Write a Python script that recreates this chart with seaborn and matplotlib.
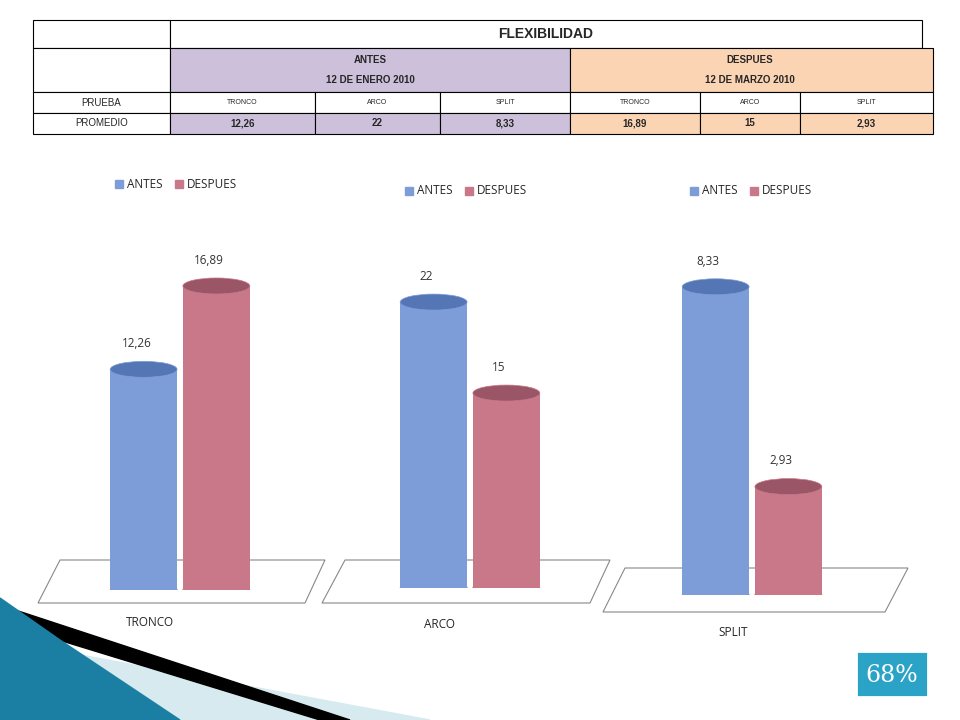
import matplotlib
matplotlib.use("Agg")
import matplotlib.pyplot as plt
import seaborn as sns
import pandas as pd
from matplotlib.patches import Rectangle, Polygon, Ellipse

pruebas = ["TRONCO", "ARCO", "SPLIT"]
antes = [12.26, 22, 8.33]
despues = [16.89, 15, 2.93]
etiquetas_antes = ["12,26", "22", "8,33"]
etiquetas_despues = ["16,89", "15", "2,93"]
series = ["ANTES", "DESPUES"]

azul, rojo = "#7C9DD8", "#C87888"
azul_top, rojo_top = "#5576B4", "#9A5566"

sns.set_style("white")
fig = plt.figure(figsize=(9.6, 7.2), dpi=100)
bg = fig.add_axes([0, 0, 1, 1])
bg.set_xlim(0, 960)
bg.set_ylim(720, 0)
bg.axis("off")

# tabla
def celda(x0, y0, x1, y1, color="white", texto="", size=7, bold=True):
    bg.add_patch(Rectangle((x0, y0), x1 - x0, y1 - y0, facecolor=color, edgecolor="black", lw=0.8))
    if texto:
        bg.text((x0 + x1) / 2, (y0 + y1) / 2, texto, ha="center", va="center", fontsize=size,
                fontweight="bold" if bold else "normal", family="Liberation Sans")

celda(33, 20, 170, 48)
celda(170, 20, 922, 48, texto="FLEXIBILIDAD", size=10)
celda(33, 48, 170, 92)
celda(170, 48, 570, 92, color="#CCC0DA")
celda(570, 48, 933, 92, color="#FBD4B4")
bg.text(370, 60, "ANTES", ha="center", va="center", fontsize=7, fontweight="bold", family="Liberation Sans")
bg.text(370, 80, "12 DE ENERO 2010", ha="center", va="center", fontsize=7, fontweight="bold", family="Liberation Sans")
bg.text(750, 60, "DESPUES", ha="center", va="center", fontsize=7, fontweight="bold", family="Liberation Sans")
bg.text(750, 80, "12 DE MARZO 2010", ha="center", va="center", fontsize=7, fontweight="bold", family="Liberation Sans")
cols = [170, 315, 440, 570, 700, 800, 933]
celda(33, 92, 170, 113, texto="PRUEBA", size=7, bold=False)
celda(33, 113, 170, 134, texto="PROMEDIO", size=7, bold=False)
valores = etiquetas_antes + etiquetas_despues
for i in range(6):
    c = "#CCC0DA" if i < 3 else "#FBD4B4"
    celda(cols[i], 92, cols[i + 1], 113, texto=pruebas[i % 3], size=5, bold=False)
    celda(cols[i], 113, cols[i + 1], 134, color=c, texto=valores[i], size=7)

# decoracion
bg.add_patch(Polygon([(0, 640), (430, 720), (0, 720)], color="#D6EAF0"))
bg.add_patch(Polygon([(0, 605), (350, 720), (320, 720), (0, 622)], color="black"))
bg.add_patch(Polygon([(0, 598), (60, 640), (180, 720), (0, 720)], color="#1B7FA3"))
bg.add_patch(Rectangle((856, 651), 72, 46, facecolor="#2BA3C6", edgecolor="white", lw=2))
bg.text(892, 675, "68%", ha="center", va="center", fontsize=17, color="white", family="DejaVu Serif")

pisos = [[(60, 560), (325, 560), (305, 603), (38, 603)],
         [(345, 560), (610, 560), (590, 603), (322, 603)],
         [(625, 568), (908, 568), (885, 612), (603, 612)]]
nombres = [(150, 622), (440, 624), (733, 632)]
leyendas = [(115, 184), (405, 191), (690, 191)]
ejes = [(100, 590, 20.0), (390, 588, 27.7), (672, 595, 9.73)]

for i in range(3):
    bg.add_patch(Polygon(pisos[i], facecolor="white", edgecolor="#888888", lw=0.8))
    bg.text(*nombres[i], pruebas[i], ha="center", va="center", fontsize=8.5, family="Open Sans")
    lx, ly = leyendas[i]
    bg.add_patch(Rectangle((lx, ly - 4), 8, 8, color=azul))
    bg.text(lx + 12, ly, "ANTES", va="center", fontsize=8.5, family="Open Sans")
    bg.add_patch(Rectangle((lx + 60, ly - 4), 8, 8, color=rojo))
    bg.text(lx + 72, ly, "DESPUES", va="center", fontsize=8.5, family="Open Sans")

    x0, base, ymax = ejes[i]
    ax = fig.add_axes([x0 / 960, (720 - base) / 720, 160 / 960, 360 / 720])
    ax.patch.set_alpha(0)
    df = pd.DataFrame({"serie": series, "valor": [antes[i], despues[i]]})
    sns.barplot(data=df, x="serie", y="valor", hue="serie", palette=[azul, rojo],
                saturation=1, width=0.92, ax=ax, legend=False, zorder=3, linewidth=0)
    ax.set_xlim(-0.6, 1.6)
    ax.set_ylim(0, ymax)
    ax.axis("off")
    eh = ymax / 360 * 16
    for j, (v, top, lab) in enumerate(zip([antes[i], despues[i]], [azul_top, rojo_top],
                                          [etiquetas_antes[i], etiquetas_despues[i]])):
        col = azul if j == 0 else rojo
        ax.add_patch(Ellipse((j, 0), 0.92, eh, facecolor=col, edgecolor=top, lw=0.6, zorder=2))
        ax.add_patch(Ellipse((j, v), 0.92, eh, facecolor=top, edgecolor=col, lw=0.5, zorder=4))
        ax.text(j - 0.1, v + eh * 1.2, lab, ha="center", va="bottom", fontsize=8.5,
                family="Open Sans", color="#333333", zorder=5)

fig.savefig("out.png", dpi=100)
